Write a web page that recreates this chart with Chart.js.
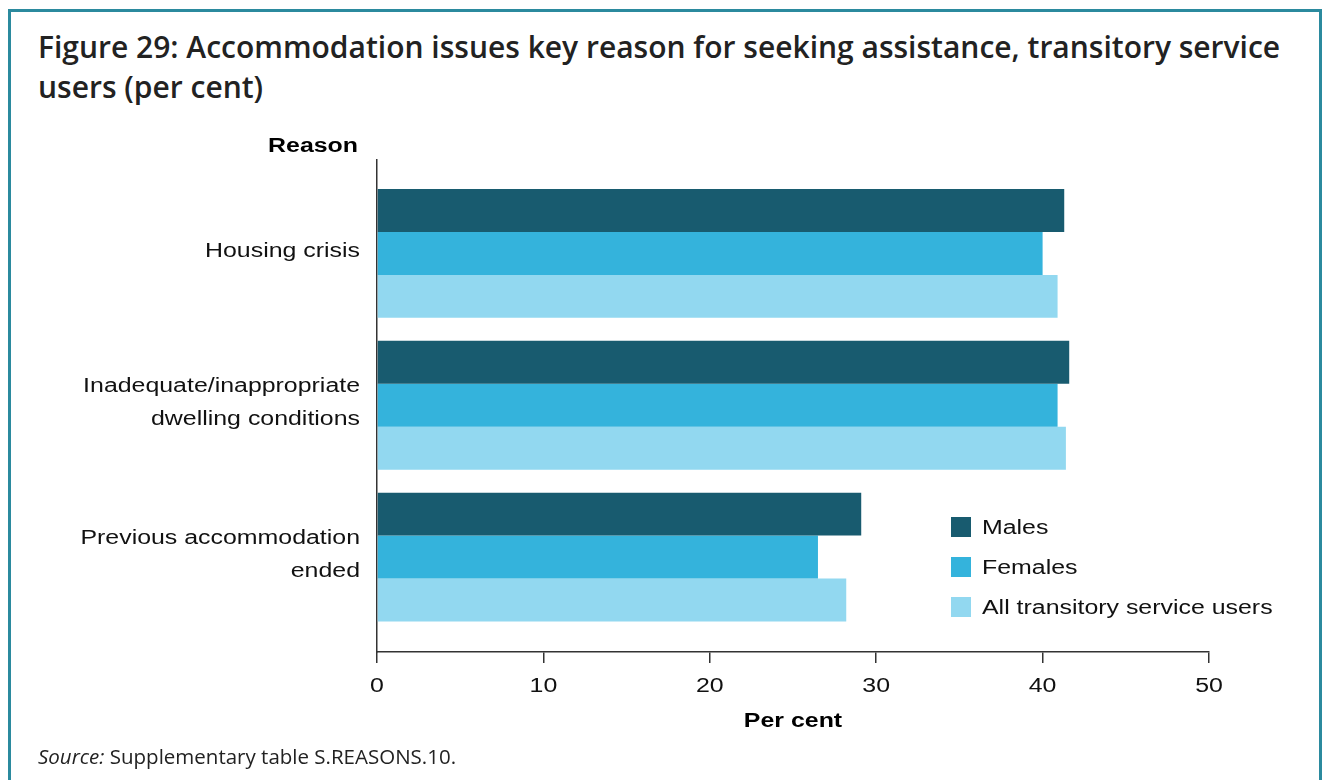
<!DOCTYPE html>
<html>
<head>
<meta charset="utf-8">
<script src="https://cdn.jsdelivr.net/npm/chart.js@4.4.1/dist/chart.umd.min.js"></script>
<style>
  html, body { margin: 0; padding: 0; background: #fff; }
  body { width: 1325px; height: 780px; position: relative; overflow: hidden; }
  #frame { position: absolute; left: 8px; top: 9px; width: 1308px; height: 790px;
           border: 3px solid #2b8a9e; border-bottom: none; }
  #title { position: absolute; left: 38px; top: 27px; width: 1270px;
           font-family: "Open Sans", sans-serif; font-weight: 600; font-size: 30px;
           line-height: 40px; color: #222; }
  #source { position: absolute; left: 38px; top: 742px;
            font-family: "Open Sans", sans-serif; font-size: 20.5px; color: #222; }
  #wrap { position: absolute; left: 0; top: 0; width: 1325px; height: 780px; }
</style>
</head>
<body>
<div id="frame"></div>
<div id="title">Figure 29: Accommodation issues key reason for seeking assistance, transitory service users (per cent)</div>
<div id="wrap"><canvas id="c" width="1325" height="780"></canvas></div>
<div id="source"><i>Source:</i> Supplementary table S.REASONS.10.</div>
<script>
const categories = [
  ["Housing crisis"],
  ["Inadequate/inappropriate", "dwelling conditions"],
  ["Previous accommodation", "ended"]
];
const seriesNames = ["Males", "Females", "All transitory service users"];
const males   = [41.3, 41.6, 29.1];
const females = [40.0, 40.9, 26.5];
const allUsers = [40.9, 41.4, 28.2];
const xTicks = [0, 10, 20, 30, 40, 50];
const colors = ["#185b6f", "#34b3dc", "#92d8f0"];

const FONT = "'Liberation Sans', Arial, sans-serif";
const SX = 1.245; // horizontal stretch of the chart graphic's text

function toPoints(arr) { return arr.map((v, i) => ({ x: v, y: i })); }

function sText(ctx, text, x, y, align) {
  ctx.save();
  ctx.translate(x, y);
  ctx.scale(SX, 1);
  ctx.textAlign = align;
  ctx.fillText(text, 0, 0);
  ctx.restore();
}

const extras = {
  id: 'extras',
  afterDraw(chart) {
    const ctx = chart.ctx;
    const ca = chart.chartArea;
    const xs = chart.scales.x, ys = chart.scales.y;
    ctx.save();
    ctx.textBaseline = 'middle';
    // category labels
    ctx.fillStyle = '#111';
    ctx.font = "20px " + FONT;
    ys.ticks.forEach(t => {
      const lines = categories[t.value];
      const cy = ys.getPixelForValue(t.value) - 2;
      const lh = 33;
      lines.forEach((ln, k) => {
        const y = cy + (k - (lines.length - 1) / 2) * lh;
        sText(ctx, ln, ca.left - 17, y, 'right');
      });
    });
    // x tick labels
    xs.ticks.forEach(t => {
      sText(ctx, String(t.value), xs.getPixelForValue(t.value), 686, 'center');
    });
    // axis titles
    ctx.fillStyle = '#000';
    ctx.font = "bold 20px " + FONT;
    sText(ctx, 'Reason', ca.left - 19, 146, 'right');
    sText(ctx, 'Per cent', (ca.left + ca.right) / 2, 721, 'center');
    // legend
    ctx.font = "20px " + FONT;
    const rows = [527, 567, 607];
    chart.data.datasets.forEach((ds, i) => {
      ctx.fillStyle = ds.backgroundColor;
      ctx.fillRect(951, rows[i] - 10, 20, 20);
      ctx.fillStyle = '#111';
      sText(ctx, ds.label, 982, rows[i] + 1, 'left');
    });
    ctx.restore();
  }
};

new Chart(document.getElementById('c'), {
  type: 'bar',
  data: {
    datasets: [
      { label: seriesNames[0], data: toPoints(males), backgroundColor: colors[0] },
      { label: seriesNames[1], data: toPoints(females), backgroundColor: colors[1] },
      { label: seriesNames[2], data: toPoints(allUsers), backgroundColor: colors[2] }
    ]
  },
  options: {
    indexAxis: 'y',
    responsive: false,
    animation: false,
    layout: { padding: { top: 160, left: 0, right: 116, bottom: 0 } },
    datasets: { bar: { categoryPercentage: 0.849, barPercentage: 1.0, borderWidth: 0 } },
    plugins: { legend: { display: false }, tooltip: { enabled: false } },
    scales: {
      y: {
        type: 'linear',
        reverse: true,
        offset: false,
        min: -0.615,
        max: 2.625,
        afterBuildTicks(axis) { axis.ticks = categories.map((c, i) => ({ value: i })); },
        afterFit(axis) { axis.width = 377; },
        ticks: { display: false },
        grid: { display: false },
        border: { display: true, color: '#333', width: 1.5 }
      },
      x: {
        type: 'linear',
        offset: false,
        min: 0,
        max: 50,
        afterBuildTicks(axis) { axis.ticks = xTicks.map(v => ({ value: v })); },
        afterFit(axis) { axis.height = 128; },
        ticks: { display: false },
        grid: { drawOnChartArea: false, drawTicks: true, tickLength: 11, color: '#333', lineWidth: 1.5 },
        border: { display: true, color: '#333', width: 1.5 }
      }
    }
  },
  plugins: [extras]
});
</script>
</body>
</html>
